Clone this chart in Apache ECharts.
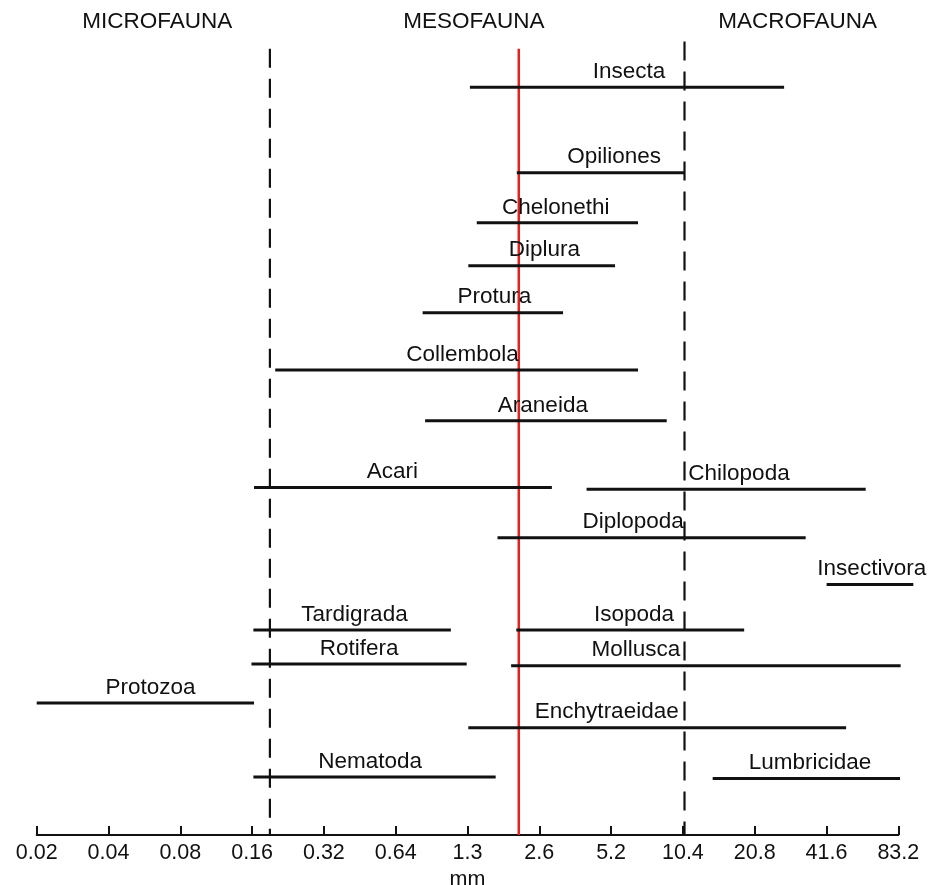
<!DOCTYPE html>
<html>
<head>
<meta charset="utf-8">
<script src="https://cdn.jsdelivr.net/npm/echarts@6/dist/echarts.min.js"></script>
<style>
html,body{margin:0;padding:0;background:#fff;}
#chart{width:930px;height:885px;}
</style>
</head>
<body>
<div id="chart"></div>
<script>
// Size axis: doubling steps from 0.02 mm
const tickLabels = ['0.02','0.04','0.08','0.16','0.32','0.64','1.3','2.6','5.2','10.4','20.8','41.6','83.2'];
const axisBase = 0.02;

// Taxa and body-size ranges (mm)
const taxa = ['Insecta','Opiliones','Chelonethi','Diplura','Protura','Collembola','Araneida','Acari','Chilopoda','Diplopoda','Insectivora','Tardigrada','Isopoda','Rotifera','Mollusca','Protozoa','Enchytraeidae','Nematoda','Lumbricidae'];
const sizeMin = [1.31, 2.06, 1.40, 1.29, 0.83, 0.20, 0.85, 0.163, 4.04, 1.71, 41.0, 0.162, 2.05, 0.159, 1.95, 0.02, 1.29, 0.162, 13.65];
const sizeMax = [27.2, 10.35, 6.64, 5.32, 3.22, 6.64, 8.76, 2.89, 59.8, 33.5, 94.7, 1.09, 18.5, 1.27, 83.8, 0.163, 49.5, 1.68, 83.3];
// vertical row of each taxon (0 = top of plot, 100 = size axis)
const rowLevel = [5.95, 16.7, 23.0, 28.4, 34.3, 41.5, 47.9, 56.3, 56.5, 62.6, 68.5, 74.2, 74.2, 78.5, 78.7, 83.4, 86.5, 92.7, 92.9];
// size (mm) at which each taxon name is centred
const labelAt = [6.08, 5.27, 3.00, 2.69, 1.66, 1.22, 2.65, 0.62, 17.6, 6.33, 63.4, 0.43, 6.39, 0.45, 6.50, 0.060, 4.91, 0.50, 34.9];

// Size-class boundaries (mm) and the red reference line
const classBoundaries = [0.19, 10.4];
const boundaryTop = [1.1, 0.2];
const redLine = 2.1;
const redTop = 1.1;
const classNames = ['MICROFAUNA','MESOFAUNA','MACROFAUNA'];
const classNameAt = [0.064, 1.36, 31.0];

const toAxis = v => Math.log2(v / axisBase);
const FONT = '"Liberation Sans", Arial, Helvetica, sans-serif';
const INK = '#111111';
const TEXT_SIZE = 22.5;

const barData = taxa.map((t, i) => [toAxis(sizeMin[i]), toAxis(sizeMax[i]), rowLevel[i], toAxis(labelAt[i]), t]);
const vlineData = classBoundaries.map((b, i) => [toAxis(b), boundaryTop[i], 100, 0])
  .concat([[toAxis(redLine), redTop, 100, 1]]);

const chart = echarts.init(document.getElementById('chart'), null, {renderer: 'canvas'});

chart.setOption({
  animation: false,
  backgroundColor: '#ffffff',
  grid: {left: 36.7, right: 31.7, top: 40, bottom: 50, outerBoundsMode: 'none', containLabel: false},
  xAxis: {
    type: 'value', min: 0, max: 12, interval: 1, position: 'bottom',
    axisLine: {show: true, onZero: false, lineStyle: {color: INK, width: 2}},
    axisTick: {show: true, inside: true, length: 9, lineStyle: {color: INK, width: 2}},
    splitLine: {show: false},
    axisLabel: {
      margin: 7, fontSize: 21.5, fontFamily: FONT, color: INK,
      formatter: v => tickLabels[Math.round(v)]
    },
    name: 'mm', nameLocation: 'middle', nameGap: 29,
    nameTextStyle: {fontSize: 21.5, fontFamily: FONT, color: INK}
  },
  yAxis: {
    type: 'value', min: 0, max: 100, inverse: true, show: false
  },
  series: [
    {
      type: 'custom', name: 'bounds', clip: false, z: 1,
      data: vlineData,
      renderItem: (params, api) => {
        const p1 = api.coord([api.value(0), api.value(1)]);
        const p2 = api.coord([api.value(0), api.value(2)]);
        const red = api.value(3) === 1;
        return {
          type: 'line',
          shape: {x1: p1[0], y1: p1[1], x2: p2[0], y2: p2[1]},
          style: red ? {stroke: '#e3231f', lineWidth: 2.5}
                     : {stroke: INK, lineWidth: 2.2, lineDash: [19, 11]}
        };
      }
    },
    {
      type: 'custom', name: 'ranges', clip: false, z: 2,
      data: barData,
      renderItem: (params, api) => {
        const p1 = api.coord([api.value(0), api.value(2)]);
        const p2 = api.coord([api.value(1), api.value(2)]);
        const pl = api.coord([api.value(3), api.value(2)]);
        return {
          type: 'group',
          children: [
            {type: 'line', shape: {x1: p1[0], y1: p1[1], x2: p2[0], y2: p2[1]},
             style: {stroke: INK, lineWidth: 3}},
            {type: 'text', x: pl[0], y: pl[1] - 15.5,
             style: {text: barData[params.dataIndex][4], font: TEXT_SIZE + 'px ' + FONT, fill: INK,
                     textAlign: 'center', textVerticalAlign: 'middle'}}
          ]
        };
      }
    }
  ]
});

// class headings placed along the size axis
chart.setOption({
  graphic: classNames.map((n, i) => ({
    type: 'text', id: 'cls' + i,
    x: chart.convertToPixel({gridIndex: 0}, [toAxis(classNameAt[i]), 0])[0],
    y: 22,
    style: {text: n, font: TEXT_SIZE + 'px ' + FONT, fill: INK, textAlign: 'center', textVerticalAlign: 'middle'}
  }))
});
</script>
</body>
</html>
